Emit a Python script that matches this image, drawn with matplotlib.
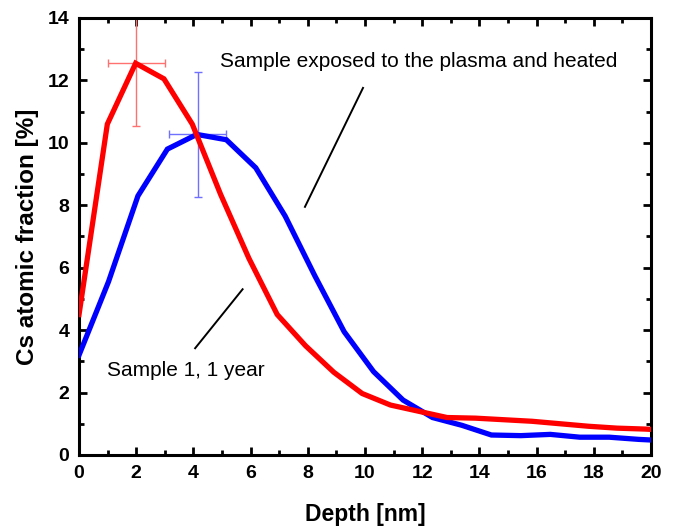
import matplotlib
matplotlib.use("Agg")
import matplotlib.pyplot as plt
from matplotlib.ticker import MultipleLocator

plt.rcParams['font.family'] = ['Liberation Sans', 'DejaVu Sans']

# Sample 1, 1 year (red)
red_depth = [0, 0.99, 1.98, 2.97, 3.96, 4.95, 5.94, 6.93, 7.92, 8.91, 9.9,
             10.89, 11.88, 12.87, 13.86, 14.85, 15.84, 16.83, 17.82, 18.81, 19.8, 20.0]
red_frac = [4.5, 10.6, 12.55, 12.05, 10.6, 8.35, 6.3, 4.5, 3.5, 2.65, 1.97,
            1.6, 1.4, 1.2, 1.18, 1.13, 1.08, 1.0, 0.92, 0.86, 0.83, 0.82]

# Sample exposed to the plasma and heated (blue)
blue_depth = [0, 1.03, 2.06, 3.09, 4.12, 5.15, 6.18, 7.21, 8.24, 9.27, 10.3,
              11.33, 12.36, 13.39, 14.42, 15.45, 16.48, 17.51, 18.54, 19.57, 20.0]
blue_frac = [3.2, 5.55, 8.3, 9.8, 10.27, 10.1, 9.2, 7.65, 5.75, 3.95, 2.67,
             1.76, 1.2, 0.95, 0.64, 0.62, 0.66, 0.57, 0.57, 0.5, 0.48]

# error bars
red_err_x, red_err_y, red_xerr, red_yerr = 2.0, 12.55, 1.0, 2.0
blue_err_x, blue_err_y, blue_xerr, blue_yerr = 4.15, 10.27, 1.0, 2.0

fig = plt.figure(figsize=(6.76, 5.26), dpi=100)
ax = fig.add_axes([0.1169, 0.135, 0.963 - 0.1169, 0.9658 - 0.135])

ax.errorbar([red_err_x], [red_err_y], xerr=[red_xerr], yerr=[red_yerr],
            fmt='none', ecolor='#ff7070', elinewidth=1.0, capsize=3, capthick=1.0, zorder=2)
ax.errorbar([blue_err_x], [blue_err_y], xerr=[blue_xerr], yerr=[blue_yerr],
            fmt='none', ecolor='#7070ff', elinewidth=1.0, capsize=3, capthick=1.0, zorder=2)

ax.plot(blue_depth, blue_frac, color='#0000ff', lw=3.8, zorder=3, solid_joinstyle='miter')
ax.plot(red_depth, red_frac, color='#ff0000', lw=3.8, zorder=4, solid_joinstyle='miter')

ax.set_xlim(0, 20)
ax.set_ylim(0, 14)
ax.xaxis.set_major_locator(MultipleLocator(2))
ax.xaxis.set_minor_locator(MultipleLocator(1))
ax.yaxis.set_major_locator(MultipleLocator(2))
ax.yaxis.set_minor_locator(MultipleLocator(1))

for s in ax.spines.values():
    s.set_linewidth(2.2)
ax.tick_params(which='both', direction='in', top=True, right=True, width=2.0)
ax.tick_params(which='major', length=6, labelsize=14, pad=7)
ax.tick_params(which='minor', length=3.5)
for lbl in ax.get_xticklabels() + ax.get_yticklabels():
    lbl.set_fontweight('bold')

ax.set_xlabel('Depth [nm]', fontsize=16.5, fontweight='bold', labelpad=15)
ax.set_ylabel('Cs atomic fraction [%]', fontsize=17.5, fontweight='bold', labelpad=6)

ax.text(4.93, 12.6, 'Sample exposed to the plasma and heated', fontsize=15,
        ha='left', va='center')
ax.plot([9.93, 7.9], [11.76, 7.95], color='black', lw=1.4)
ax.text(0.98, 2.72, 'Sample 1, 1 year', fontsize=15, ha='left', va='center')
ax.plot([4.06, 5.72], [3.42, 5.31], color='black', lw=1.4)

fig.savefig('out.png', dpi=100)
